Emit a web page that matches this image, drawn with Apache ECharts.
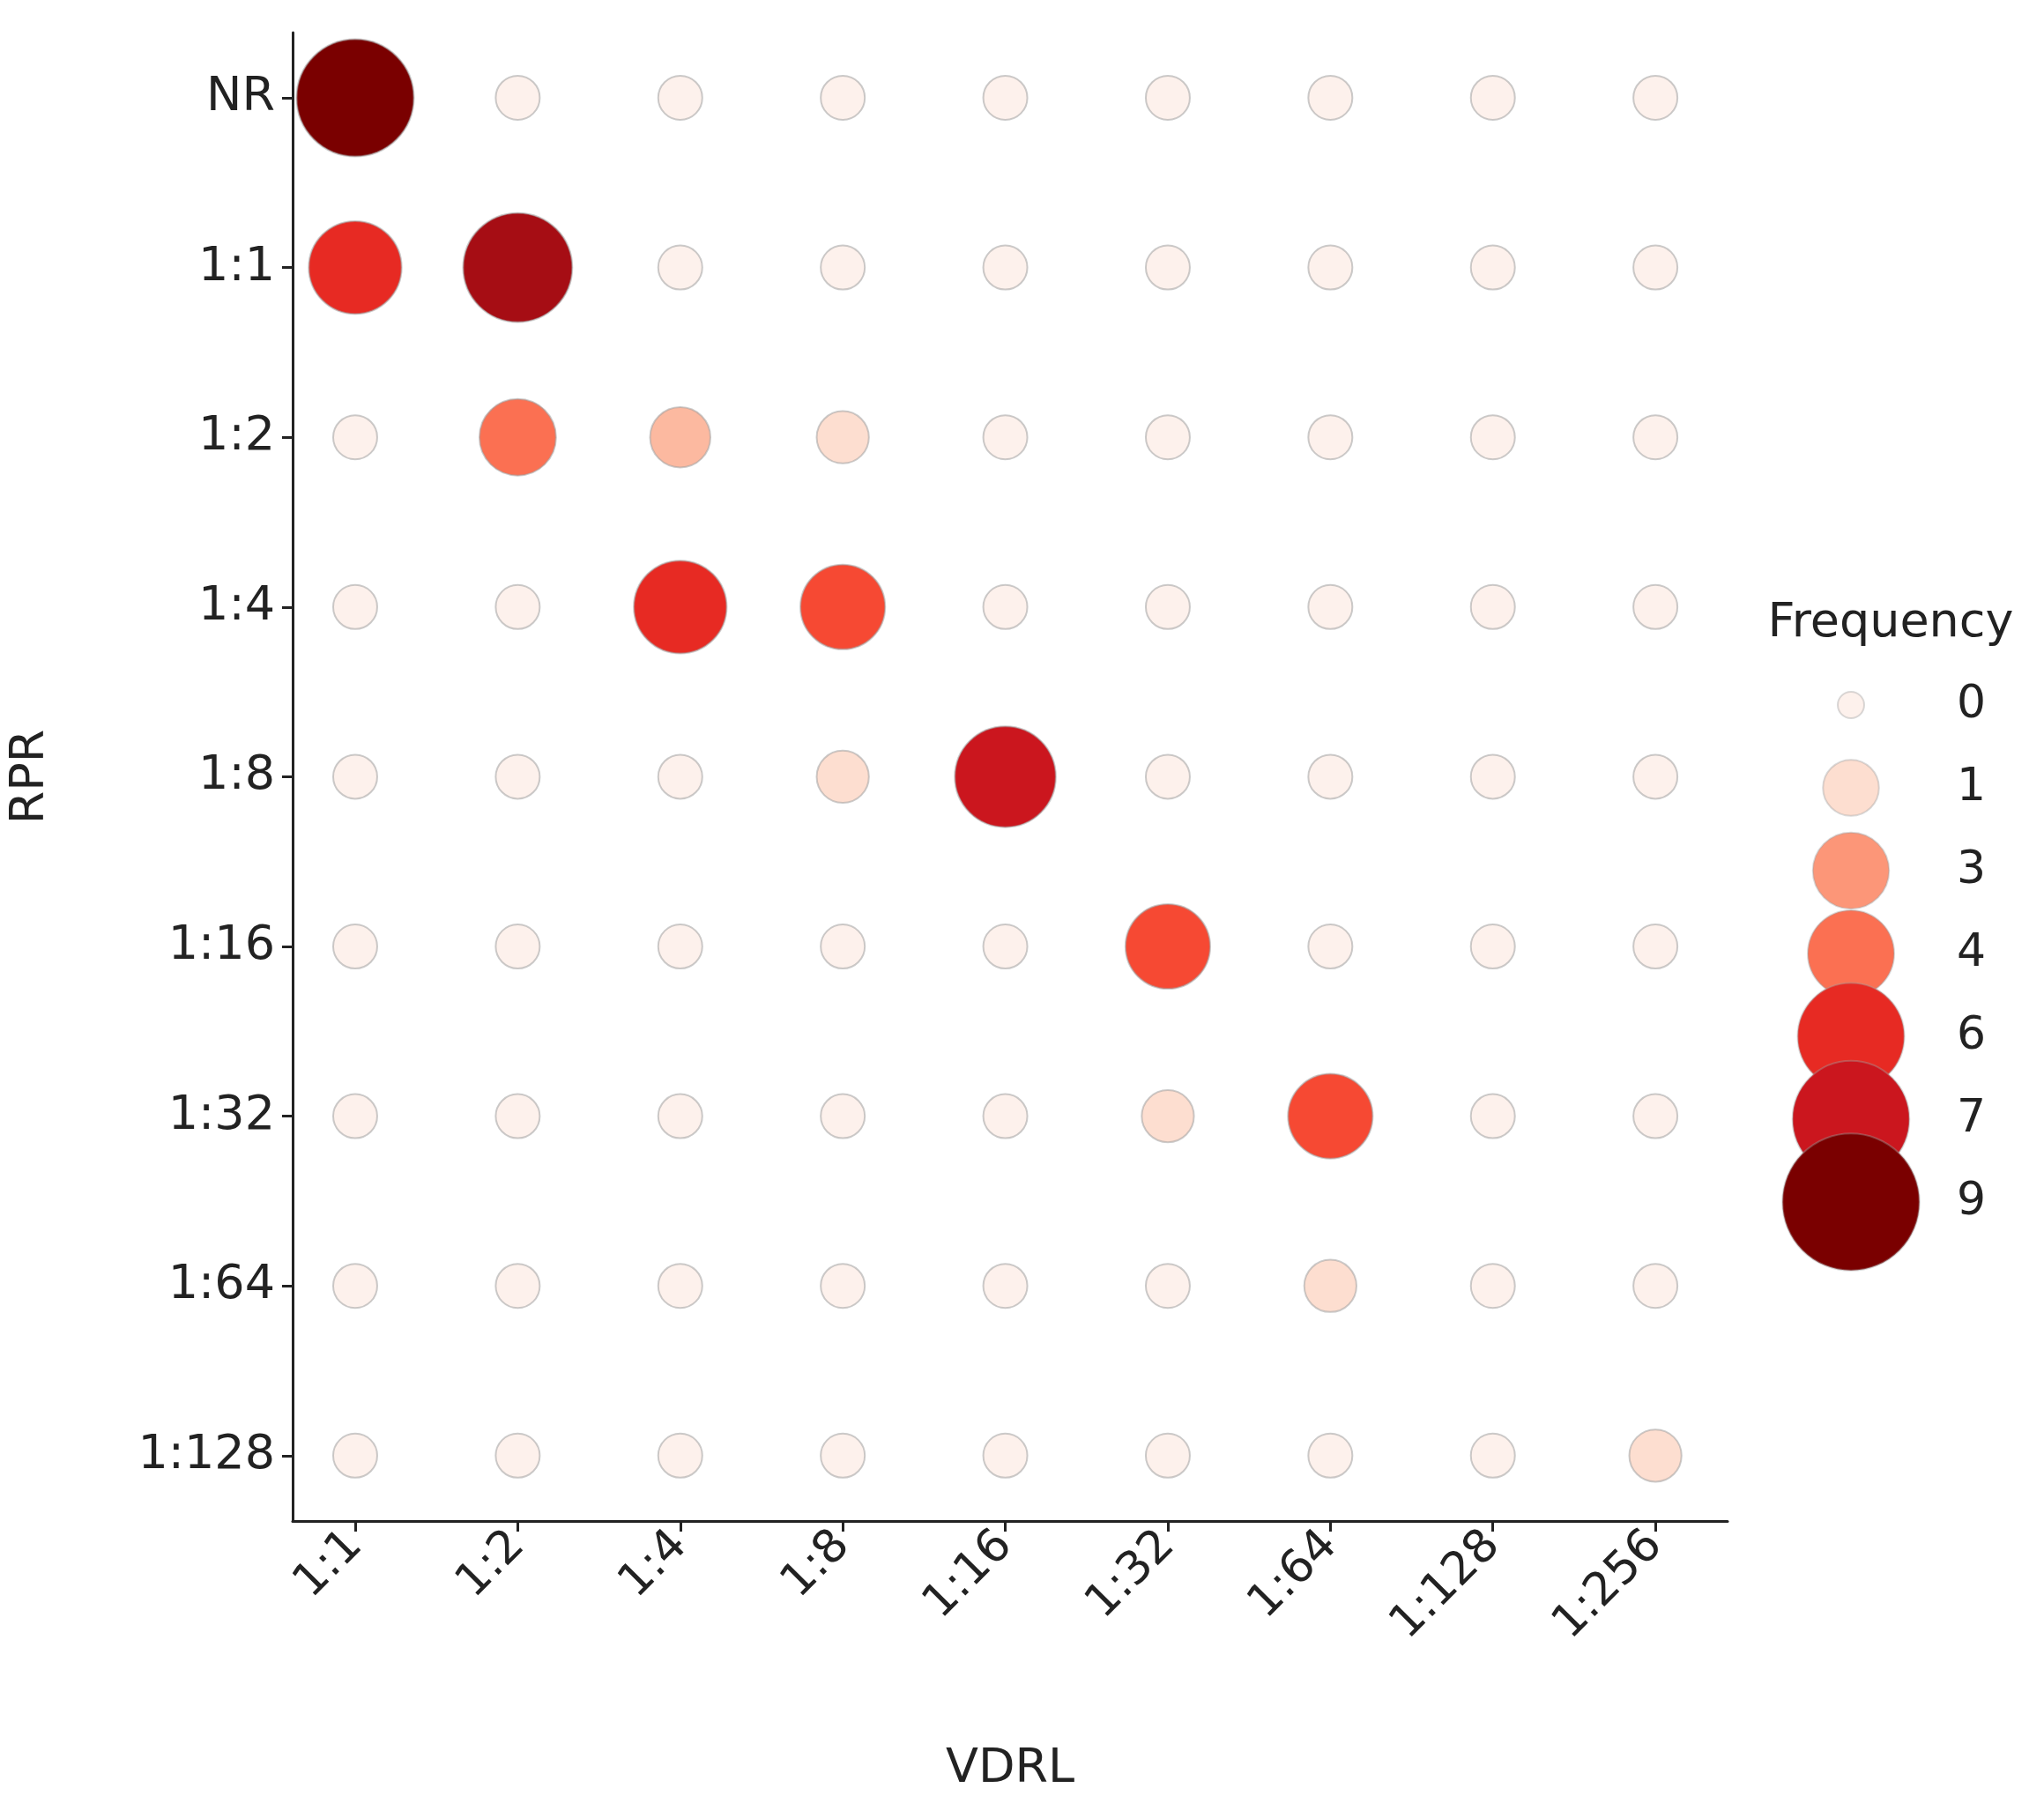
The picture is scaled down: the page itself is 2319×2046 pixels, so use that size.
<!DOCTYPE html>
<html>
<head>
<meta charset="utf-8">
<script src="https://cdn.jsdelivr.net/npm/echarts@6/dist/echarts.min.js"></script>
<style>html,body{margin:0;background:#fff}#c{width:2319px;height:2046px}</style>
</head>
<body>
<div id="c"></div>
<script>
// categories
const vdrl = ['1:1', '1:2', '1:4', '1:8', '1:16', '1:32', '1:64', '1:128', '1:256'];
const rpr = ['NR', '1:1', '1:2', '1:4', '1:8', '1:16', '1:32', '1:64', '1:128'];
// frequency per RPR row (values along VDRL)
const freq = [
    [9, 0, 0, 0, 0, 0, 0, 0, 0],
    [6, 8, 0, 0, 0, 0, 0, 0, 0],
    [0, 4, 2, 1, 0, 0, 0, 0, 0],
    [0, 0, 6, 5, 0, 0, 0, 0, 0],
    [0, 0, 0, 1, 7, 0, 0, 0, 0],
    [0, 0, 0, 0, 0, 5, 0, 0, 0],
    [0, 0, 0, 0, 0, 1, 5, 0, 0],
    [0, 0, 0, 0, 0, 0, 1, 0, 0],
    [0, 0, 0, 0, 0, 0, 0, 0, 1]
];
const legendValues = [0, 1, 3, 4, 6, 7, 9];

const reds = ['#fdf1ec', '#fddccd', '#fcaf93', '#fc8a6a', '#fb5b3f', '#f03324', '#d41820', '#ac0f16', '#7a0000'];
const FONT = 'DejaVu Sans';

let points = [];
freq.forEach((row, r) => row.forEach((v, c) => points.push([c, r, v])));
let legendPts = legendValues.map(v => [0, String(v), v]);

let myChart = echarts.init(document.getElementById('c'));
myChart.setOption({
    backgroundColor: '#fff',
    animation: false,
    visualMap: [{
        show: false, min: 0, max: 9, dimension: 2, seriesIndex: [0, 1],
        inRange: {color: reds}
    }],
    grid: [
        {left: 331, top: 37, width: 1629, height: 1689},
        {left: 2040, top: 753, width: 120, height: 658}
    ],
    xAxis: [{
        type: 'value', min: -0.385, max: 8.444,
        name: 'VDRL', nameLocation: 'middle', nameGap: 255,
        nameTextStyle: {fontFamily: FONT, fontSize: 54, color: '#222'},
        splitLine: {show: false},
        axisLine: {onZero: false, lineStyle: {color: '#222', width: 3}},
        axisTick: {length: 12, lineStyle: {color: '#222', width: 3}, customValues: vdrl.map((d, i) => i)},
        axisLabel: {
            customValues: vdrl.map((d, i) => i), formatter: v => vdrl[Math.round(v)],
            rotate: 45, margin: 20, fontFamily: FONT, fontSize: 52, color: '#222'
        }
    }, {
        gridIndex: 1, type: 'value', min: -1, max: 1, show: false
    }],
    yAxis: [{
        type: 'value', inverse: true, min: -0.384, max: 8.385,
        name: 'RPR', nameLocation: 'middle', nameGap: 270,
        nameTextStyle: {fontFamily: FONT, fontSize: 54, color: '#222'},
        splitLine: {show: false},
        axisLine: {onZero: false, lineStyle: {color: '#222', width: 3}},
        axisTick: {length: 12, lineStyle: {color: '#222', width: 3}, customValues: rpr.map((d, i) => i)},
        axisLabel: {
            customValues: rpr.map((d, i) => i), formatter: v => rpr[Math.round(v)],
            margin: 20, fontFamily: FONT, fontSize: 54, color: '#222'
        }
    }, {
        gridIndex: 1, type: 'category', inverse: true, position: 'right',
        data: legendValues.map(String),
        name: 'Frequency', nameLocation: 'start', nameGap: 18,
        nameTextStyle: {fontFamily: FONT, fontSize: 54, color: '#222', align: 'center', padding: [0, 0, 0, 90]},
        axisLine: {show: false}, axisTick: {show: false},
        axisLabel: {margin: 60, fontFamily: FONT, fontSize: 52, color: '#222'}
    }],
    series: [{
        type: 'scatter',
        data: points,
        symbolSize: d => 50 + 83 * d[2] / 9,
        itemStyle: {opacity: 1, borderColor: 'rgba(160,160,160,0.55)', borderWidth: 2}
    }, {
        type: 'scatter', xAxisIndex: 1, yAxisIndex: 1,
        data: legendPts,
        symbolSize: d => d[2] === 0 ? 30 : 52 + 11.5 * d[2],
        itemStyle: {opacity: 1, borderColor: 'rgba(160,160,160,0.4)', borderWidth: 2}
    }]
});
</script>
</body>
</html>
